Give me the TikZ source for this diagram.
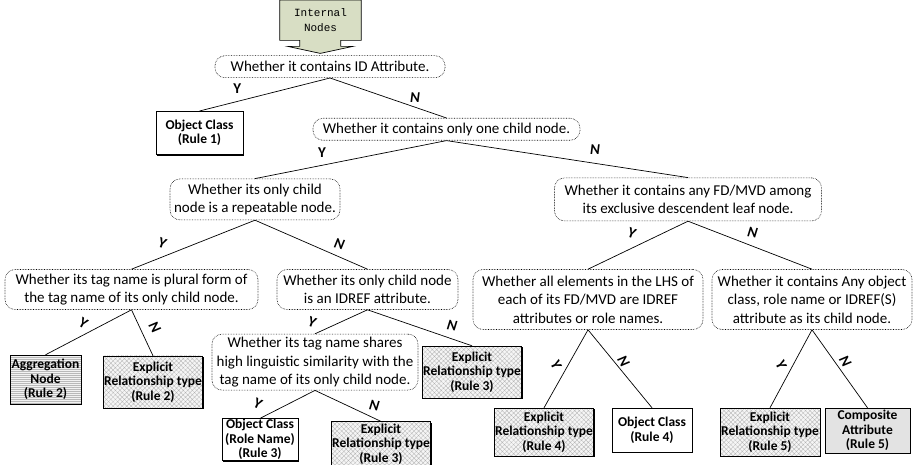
\documentclass[tikz,border=0pt]{standalone}
\usepackage{fontspec}
\setmainfont{Carlito}
\newfontfamily\codefont{Liberation Mono}
\usepackage{tikz}
\usetikzlibrary{positioning,shadows,patterns.meta,backgrounds}
\definecolor{startcol}{RGB}{216,222,196}

\tikzset{
	start/.style={anchor=north, minimum width=81pt, minimum height=40pt, inner sep=0pt,
		align=center, font=\codefont\fontsize{11}{15.5}\selectfont},
	question/.style={draw, densely dotted, line width=0.6pt, rounded corners=10pt,
		align=center, inner sep=1pt, font=\fontsize{15}{18.5}\selectfont},
	leaf/.style={draw, line width=0.7pt, fill=white, align=center, inner sep=0.5pt,
		general shadow={fill=black, shadow xshift=1.3pt, shadow yshift=-1.3pt},
		font=\bfseries\fontsize{13.5}{14.5}\selectfont},
	hatched/.style={preaction={fill=gray!8},
		pattern={Hatch[angle=45,distance=3.2pt,line width=0.3pt]}, pattern color=gray!60},
	striped/.style={preaction={fill=gray!10},
		pattern={Lines[angle=0,distance=2pt,line width=0.6pt]}, pattern color=gray!55},
	shaded/.style={fill=gray!22},
	ylab/.style={inner sep=0pt, font=\bfseries\fontsize{15}{15}\selectfont},
	nlab/.style={inner sep=0pt, font=\bfseries\itshape\fontsize{15}{15}\selectfont},
	link/.style={line width=0.7pt}
}

\begin{document}
\begin{tikzpicture}[x=1pt, y=-1pt]
	\useasboundingbox (0,0) rectangle (915,465);

	% Define nodes
	\node[start] (start) at (320.5,0) {Internal\\Nodes};
	\node[question, below=15pt of start, xshift=9.5pt, minimum width=230pt, minimum height=22pt] (q1)
		{Whether it contains ID Attribute.};
	\node[leaf, below=33pt of q1, xshift=-130.5pt, minimum width=87pt, minimum height=43pt] (r1)
		{Object Class\\(Rule 1)};
	\node[question, below=40pt of q1, xshift=116.5pt, minimum width=267pt, minimum height=22pt] (q2)
		{Whether it contains only one child node.};
	\node[question, below=38pt of q2, xshift=-191.5pt, minimum width=170pt, minimum height=41pt] (q3)
		{Whether its only child\\node is a repeatable node.};
	\node[question, below=37pt of q2, xshift=241.5pt, minimum width=267pt, minimum height=43pt] (q4)
		{Whether it contains any FD/MVD among\\its exclusive descendent leaf node.};
	\node[question, below=49pt of q3, xshift=-123.5pt, minimum width=253pt, minimum height=40pt] (q5)
		{Whether its tag name is plural form of\\the tag name of its only child node.};
	\node[question, below=49pt of q3, xshift=112.5pt, minimum width=181pt, minimum height=40pt] (q6)
		{Whether its only child node\\is an IDREF attribute.};
	\node[question, below=48pt of q4, xshift=-100pt, minimum width=230pt, minimum height=60pt] (q7)
		{Whether all elements in the LHS of\\each of its FD/MVD are IDREF\\attributes or role names.};
	\node[question, below=48pt of q4, xshift=124pt, minimum width=200pt, minimum height=60pt] (q8)
		{Whether it contains Any object\\class, role name or IDREF(S)\\attribute as its child node.};
	\node[leaf, striped, below=45pt of q5, xshift=-86pt, minimum width=71pt, minimum height=49pt] (agg)
		{Aggregation\\Node\\(Rule 2)};
	\node[leaf, hatched, below=46pt of q5, xshift=21.5pt, minimum width=96pt, minimum height=52pt] (e2)
		{Explicit\\Relationship type\\(Rule 2)};
	\node[question, below=24pt of q6, xshift=-52.5pt, minimum width=206pt, minimum height=56pt] (q9)
		{Whether its tag name shares\\high linguistic similarity with the\\tag name of its only child node.};
	\node[leaf, hatched, below=36pt of q6, xshift=104.5pt, minimum width=88pt, minimum height=52pt] (e3a)
		{Explicit\\Relationship type\\(Rule 3)};
	\node[leaf, below=28pt of q9, xshift=-55pt, minimum width=76pt, minimum height=42pt] (oc3)
		{Object Class\\(Role Name)\\(Rule 3)};
	\node[leaf, hatched, below=31pt of q9, xshift=66pt, minimum width=96pt, minimum height=45pt] (e3b)
		{Explicit\\Relationship type\\(Rule 3)};
	\node[leaf, hatched, below=78pt of q7, xshift=-44pt, minimum width=98pt, minimum height=48pt] (e4)
		{Explicit\\Relationship type\\(Rule 4)};
	\node[leaf, below=78pt of q7, xshift=64pt, minimum width=80pt, minimum height=44pt] (oc4)
		{Object Class\\(Rule 4)};
	\node[leaf, hatched, below=78pt of q8, xshift=-42pt, minimum width=100pt, minimum height=48pt] (e5)
		{Explicit\\Relationship type\\(Rule 5)};
	\node[leaf, shaded, below=78pt of q8, xshift=55.5pt, minimum width=85pt, minimum height=45pt] (comp)
		{Composite\\Attribute\\(Rule 5)};

	% Arrow behind the start node
	\begin{scope}[on background layer]
		\draw[fill=startcol, line width=0.7pt] (start.north west) -- (start.south west) -- ++(20pt,0)
			-- ++(0,-6pt) -- ++(-12pt,0) -- ++(32.5pt,-7pt) -- ++(32.5pt,7pt) -- ++(-12pt,0)
			-- ++(0,6pt) -- (start.south east) -- (start.north east) -- cycle;
	\end{scope}

	% Edges
	\draw[link] (q1.south) -- node[ylab, pos=0.71, yshift=12.5pt] {Y} (r1.north);
	\draw[link] (q1.south) -- node[nlab, pos=0.73, yshift=10pt] {N} (q2.north);
	\draw[link] (q2.south) -- node[ylab, pos=0.65, yshift=13pt] {Y} (q3.north);
	\draw[link] (q2.south) -- node[nlab, pos=0.615, yshift=14pt] {N} (q4.north);
	\draw[link] (q3.south) -- node[ylab, pos=0.75, yshift=14pt, rotate=-20] {Y} (q5.north);
	\draw[link] (q3.south) -- node[nlab, pos=0.75, yshift=13pt, rotate=-15] {N} (q6.north);
	\draw[link] (q4.south) -- node[ylab, pos=0.56, yshift=15pt, rotate=-20] {Y} (q7.north);
	\draw[link] (q4.south) -- node[nlab, pos=0.52, yshift=14pt, rotate=-10] {N} (q8.north);
	\draw[link] (q5.south) -- node[ylab, pos=0.56, yshift=12pt, rotate=-30] {Y} (agg.north);
	\draw[link] (q5.south) -- node[nlab, pos=0.39, xshift=15pt, rotate=-60] {N} (e2.north);
	\draw[link] (q6.south) -- node[ylab, pos=0.9, xshift=-8pt, yshift=9pt, rotate=-20] {Y} (q9.north);
	\draw[link] (q6.south) -- node[nlab, pos=0.81, yshift=13pt, rotate=-10] {N} (e3a.north);
	\draw[link] (q9.south) -- node[ylab, pos=0.8, xshift=-13pt, yshift=9pt, rotate=-25] {Y} (oc3.north);
	\draw[link] (q9.south) -- node[nlab, pos=0.9, yshift=13pt, rotate=-10] {N} (e3b.north);
	\draw[link] (q7.south) -- node[ylab, pos=0.45, xshift=-12pt, rotate=-65] {Y} (e4.north);
	\draw[link] (q7.south) -- node[nlab, pos=0.4, xshift=10pt, rotate=-60] {N} (oc4.north);
	\draw[link] (q8.south) -- node[ylab, pos=0.45, xshift=-12pt, rotate=-65] {Y} (e5.north);
	\draw[link] (q8.south) -- node[nlab, pos=0.4, xshift=11pt, rotate=-60] {N} (comp.north);
\end{tikzpicture}
\end{document}
